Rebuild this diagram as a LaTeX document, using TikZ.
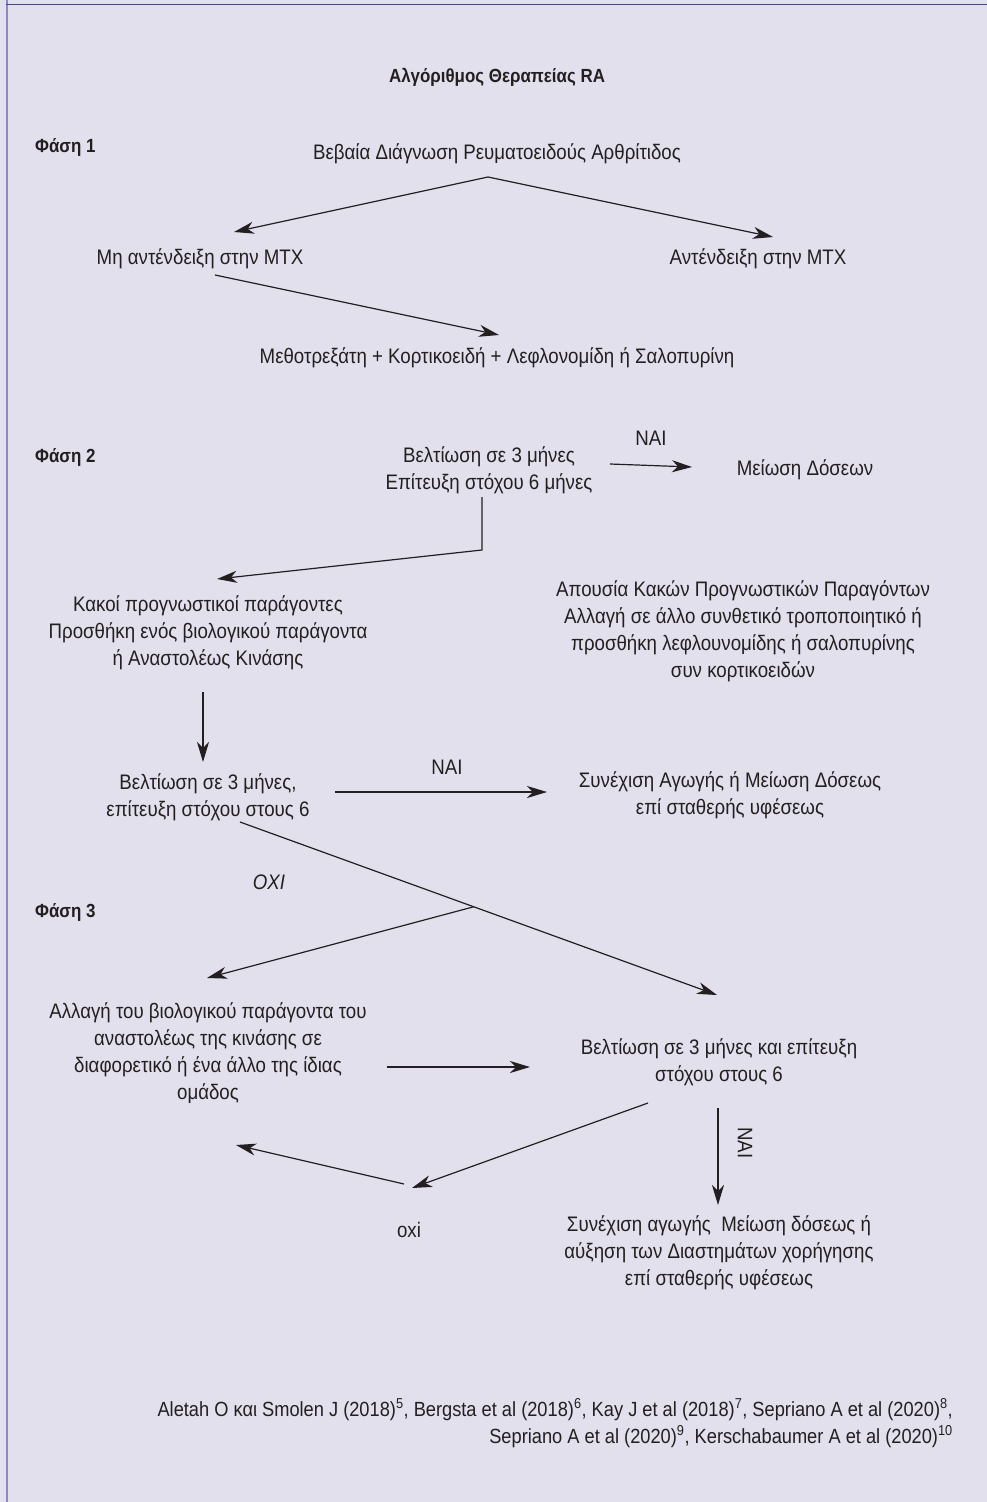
\documentclass[tikz,border=0pt]{standalone}
\usepackage{fontspec}
\setmainfont{Liberation Sans}[FakeStretch=0.89]
\usetikzlibrary{arrows.meta}
\definecolor{bgpage}{RGB}{225,224,236}
\definecolor{framedark}{RGB}{72,70,138}
\definecolor{framelight}{RGB}{140,137,190}
\definecolor{inkgray}{RGB}{35,31,32}
\newcommand{\flowfont}{\fontsize{21}{27}\selectfont}
\newcommand{\headfont}{\fontsize{19}{27}\selectfont\bfseries}
\begin{document}
\begin{tikzpicture}[x=1pt,y=-1pt,
		txt/.style={align=center,inner sep=0pt,text=inkgray,font=\flowfont},
		phase/.style={anchor=west,inner sep=0pt,text=inkgray,font=\headfont},
		arr/.style={-{Stealth[length=20pt,width=12pt,inset=6pt]},line width=1.2pt,draw=inkgray},
		ln/.style={line width=1.2pt,draw=inkgray}]
			\useasboundingbox (0,0) rectangle (987,1502);
			\fill[bgpage] (0,0) rectangle (987,1502);
			\draw[framelight,line width=2pt] (6.5,0)--(6.5,1502); %left frame
			\draw[framedark,line width=1.5pt] (6,4.5)--(987,4.5); %top frame
			% texts
			\node[txt,font=\headfont] (title) at (497,77) {Αλγόριθμος Θεραπείας RA};
			\node[phase] (ph1) at (35,147) {Φάση 1};
			\node[txt] (diag) at (497,154) {Βεβαία Διάγνωση Ρευματοειδούς Αρθρίτιδος};
			\node[txt] (mtxno) at (200,259) {Μη αντένδειξη στην MTX};
			\node[txt] (mtxyes) at (758,259) {Αντένδειξη στην MTX};
			\node[txt] (combo) at (497,358) {Μεθοτρεξάτη + Κορτικοειδή + Λεφλονομίδη ή Σαλοπυρίνη};
			\node[txt] (nai1) at (651,438) {ΝΑΙ};
			\node[phase] (ph2) at (35,457) {Φάση 2};
			\node[txt] (imp1) at (489,470) {Βελτίωση σε 3 μήνες\\Επίτευξη στόχου 6 μήνες};
			\node[txt] (dose) at (805,470) {Μείωση Δόσεων};
			\node[txt] (bad) at (208,633) {Κακοί προγνωστικοί παράγοντες\\Προσθήκη ενός βιολογικού παράγοντα\\ή Αναστολέως Κινάσης};
			\node[txt] (nobad) at (743,631) {Απουσία Κακών Προγνωστικών Παραγόντων\\Αλλαγή σε άλλο συνθετικό τροποποιητικό ή\\προσθήκη λεφλουνομίδης ή σαλοπυρίνης\\συν κορτικοειδών};
			\node[txt] (imp2) at (208,797) {Βελτίωση σε 3 μήνες,\\επίτευξη στόχου στους 6};
			\node[txt] (nai2) at (447,767) {ΝΑΙ};
			\node[txt] (cont) at (730,795) {Συνέχιση Αγωγής ή Μείωση Δόσεως\\επί σταθερής υφέσεως};
			\node[txt,font=\flowfont\itshape] (no1) at (269,882) {ΟΧΙ};
			\node[phase] (ph3) at (35,912) {Φάση 3};
			\node[txt] (chg) at (208,1053) {Αλλαγή του βιολογικού παράγοντα του\\αναστολέως της κινάσης σε\\διαφορετικό ή ένα άλλο της ίδιας\\ομάδος};
			\node[txt] (imp3) at (719,1062) {Βελτίωση σε 3 μήνες και επίτευξη\\στόχου στους 6};
			\node[txt,rotate=-90] (nai3) at (745,1143) {ΝΑΙ};
			\node[txt] (no2) at (409,1230) {oxi};
			\node[txt] (cont2) at (719,1253) {Συνέχιση αγωγής\ \ Μείωση δόσεως ή\\αύξηση των Διαστημάτων χορήγησης\\επί σταθερής υφέσεως};
			\node[txt,font=\fontsize{20.5}{27}\selectfont,anchor=east,align=right] (refs) at (953,1423) {Aletah O και Smolen J (2018)\textsuperscript{5}, Bergsta et al (2018)\textsuperscript{6}, Kay J et al (2018)\textsuperscript{7}, Sepriano A et al (2020)\textsuperscript{8},\\Sepriano A et al (2020)\textsuperscript{9}, Kerschabaumer A et al (2020)\textsuperscript{10}};
			% connectors
			\coordinate (apex) at (488,177);
			\coordinate (bend) at (482,550);
			\draw[arr] (apex)--([xshift=34pt,yshift=27pt]mtxno.center);
			\draw[arr] (apex)--([xshift=15pt,yshift=22pt]mtxyes.center);
			\draw[arr] ([xshift=15pt,yshift=-16pt]mtxno.center)--([xshift=2pt,yshift=23pt]combo.center);
			\draw[arr] ([xshift=121pt,yshift=6pt]imp1.center)--([xshift=-113pt,yshift=3pt]dose.center);
			\draw[arr] ([xshift=-7pt,yshift=-27pt]imp1.center)--(bend)--([xshift=9pt,yshift=54pt]bad.center);
			\draw[arr] ([xshift=-5pt,yshift=-59pt]bad.center)--([xshift=-5pt,yshift=35pt]imp2.center);
			\draw[arr] ([xshift=127pt,yshift=5pt]imp2.center)--([xshift=-183pt,yshift=3pt]cont.center);
			\draw[arr] ([xshift=32pt,yshift=-25pt]imp2.center)--coordinate[pos=0.49] (cross) ([xshift=-2pt,yshift=67pt]imp3.center);
			\draw[arr] (cross)--([xshift=-1pt,yshift=75pt]chg.center);
			\draw[arr] ([xshift=179pt,yshift=-14pt]chg.center)--([xshift=-189pt,yshift=-5pt]imp3.center);
			\draw[arr] ([xshift=-71pt,yshift=-41pt]imp3.center)--([xshift=3pt,yshift=42pt]no2.center);
			\draw[arr] ([xshift=-1pt,yshift=-46pt]imp3.center)--([xshift=-1pt,yshift=48pt]cont2.center);
			\draw[arr] ([xshift=-5pt,yshift=46pt]no2.center)--([xshift=28pt,yshift=-92pt]chg.center);
		\end{tikzpicture}
\end{document}
